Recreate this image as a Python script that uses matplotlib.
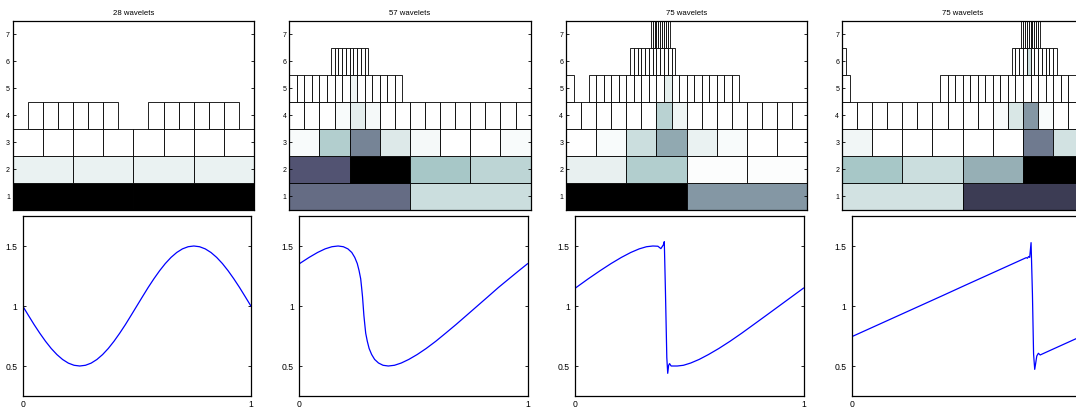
import matplotlib
matplotlib.use('Agg')
import matplotlib.pyplot as plt

plt.rcParams['font.family'] = ['Liberation Sans', 'DejaVu Sans']

titles = ['28 wavelets', '57 wavelets', '75 wavelets', '75 wavelets']

# ---- active wavelet cells per level (level j has 2**j cells on [0,1]) ----
p1_active = {
    1: [0, 1],
    2: [0, 1, 2, 3],
    3: [0, 1, 2, 3, 4, 5, 6, 7],
    4: [1, 2, 3, 4, 5, 6, 9, 10, 11, 12, 13, 14],
}
p2_active = {
    1: [0, 1],
    2: [0, 1, 2, 3],
    3: [0, 1, 2, 3, 4, 5, 6, 7],
    4: [0, 1, 2, 3, 4, 5, 6, 7, 8, 9, 10, 11, 12, 13, 14, 15],
    5: [0, 1, 2, 3, 4, 5, 6, 7, 8, 9, 10, 11, 12, 13, 14],
    6: [11, 12, 13, 14, 15, 16, 17, 18, 19, 20],
}
p3_active = {
    1: [0, 1],
    2: [0, 1, 2, 3],
    3: [0, 1, 2, 3, 4, 5, 6, 7],
    4: [0, 1, 2, 3, 4, 5, 6, 7, 8, 9, 10, 11, 12, 13, 14, 15],
    5: [0, 3, 4, 5, 6, 7, 8, 9, 10, 11, 12, 13, 14, 15, 16, 17, 18, 19, 20, 21, 22],
    6: [17, 18, 19, 20, 21, 22, 23, 24, 25, 26, 27, 28],
    7: [45, 46, 47, 48, 49, 50, 51, 52, 53, 54],
}
p4_active = {
    1: [0, 1],
    2: [0, 1, 2, 3],
    3: [0, 1, 2, 3, 4, 5, 6, 7],
    4: [0, 1, 2, 3, 4, 5, 6, 7, 8, 9, 10, 11, 12, 13, 14, 15],
    5: [0, 13, 14, 15, 16, 17, 18, 19, 20, 21, 22, 23, 24, 25, 26, 27, 28, 29, 30, 31],
    6: [0, 45, 46, 47, 48, 49, 50, 51, 52, 53, 54, 55, 56],
    7: [95, 96, 97, 98, 99, 100, 101, 102, 103, 104],
}

# ---- coefficient magnitude (0 = white, 1 = black) for shaded cells ----
p1_shade = {(1, 0): 1.0, (1, 1): 1.0,
            (2, 0): 0.06, (2, 1): 0.06, (2, 2): 0.06, (2, 3): 0.06}
p2_shade = {(1, 0): 0.55, (1, 1): 0.15,
            (2, 0): 0.63, (2, 1): 1.0, (2, 2): 0.25, (2, 3): 0.19,
            (3, 0): 0.02, (3, 1): 0.22, (3, 2): 0.47, (3, 3): 0.10, (3, 4): 0.03, (3, 7): 0.02,
            (4, 3): 0.02, (4, 4): 0.08, (4, 5): 0.03,
            (5, 8): 0.05}
p3_shade = {(1, 0): 1.0, (1, 1): 0.41,
            (2, 0): 0.07, (2, 1): 0.22, (2, 2): 0.01, (2, 3): 0.01,
            (3, 1): 0.02, (3, 2): 0.15, (3, 3): 0.35, (3, 4): 0.06, (3, 5): 0.02,
            (4, 6): 0.20, (4, 7): 0.05,
            (5, 13): 0.08}
p4_shade = {(1, 0): 0.13, (1, 1): 0.73,
            (2, 0): 0.25, (2, 1): 0.15, (2, 2): 0.33, (2, 3): 1.0,
            (3, 0): 0.04, (3, 6): 0.50, (3, 7): 0.13,
            (4, 10): 0.02, (4, 11): 0.11, (4, 12): 0.41, (4, 13): 0.02,
            (6, 49): 0.15}

# ---- solution curves ----
c1_x = [0.0, 0.025, 0.05, 0.075, 0.1, 0.125, 0.15, 0.175, 0.2, 0.225, 0.25,
        0.275, 0.3, 0.325, 0.35, 0.375, 0.4, 0.425, 0.45, 0.475, 0.5,
        0.525, 0.55, 0.575, 0.6, 0.625, 0.65, 0.675, 0.7, 0.725, 0.75,
        0.775, 0.8, 0.825, 0.85, 0.875, 0.9, 0.925, 0.95, 0.975, 1.0]
c1_y = [1.000, 0.922, 0.845, 0.773, 0.706, 0.646, 0.595, 0.554, 0.524, 0.506, 0.500,
        0.506, 0.524, 0.554, 0.595, 0.646, 0.706, 0.773, 0.845, 0.922, 1.000,
        1.078, 1.155, 1.227, 1.294, 1.354, 1.405, 1.446, 1.476, 1.494, 1.500,
        1.494, 1.476, 1.446, 1.405, 1.354, 1.294, 1.227, 1.155, 1.078, 1.000]

c2_x = [0.0, 0.043, 0.080, 0.113, 0.143, 0.170, 0.193, 0.213, 0.230, 0.243, 0.254,
        0.262, 0.269, 0.273, 0.277, 0.280, 0.283, 0.287, 0.291, 0.298, 0.306,
        0.317, 0.330, 0.347, 0.367, 0.390, 0.417, 0.447, 0.480, 0.517, 0.556,
        0.598, 0.641, 0.687, 0.733, 0.780, 0.827, 0.873, 0.919, 0.962, 1.0]
c2_y = [1.352, 1.405, 1.446, 1.476, 1.494, 1.500, 1.494, 1.476, 1.446, 1.405, 1.354,
        1.294, 1.227, 1.155, 1.078, 1.000, 0.922, 0.846, 0.773, 0.706, 0.646,
        0.596, 0.555, 0.525, 0.506, 0.500, 0.506, 0.525, 0.555, 0.596, 0.646,
        0.706, 0.773, 0.846, 0.922, 1.000, 1.078, 1.155, 1.227, 1.294, 1.352]

c3_x = [0.0, 0.057, 0.1085, 0.157, 0.202, 0.243, 0.280, 0.312, 0.340, 0.362,
        0.375, 0.386, 0.390, 0.395, 0.401, 0.405, 0.409, 0.413, 0.420, 0.447,
        0.474, 0.506, 0.543, 0.584, 0.629, 0.678, 0.729, 0.782, 0.837, 0.893,
        0.949, 1.0]
c3_y = [1.149, 1.227, 1.294, 1.354, 1.405, 1.446, 1.476, 1.494, 1.500, 1.498,
        1.478, 1.510, 1.536, 1.125, 0.570, 0.439, 0.505, 0.520, 0.500, 0.500,
        0.506, 0.525, 0.555, 0.596, 0.646, 0.706, 0.773, 0.846, 0.922, 1.000,
        1.078, 1.149]

c4_x = [0.0, 0.1, 0.2, 0.3, 0.4, 0.5, 0.6, 0.7, 0.765, 0.770, 0.775, 0.780,
        0.786, 0.792, 0.797, 0.802, 0.806, 0.811, 0.818, 0.826, 0.85, 0.9, 0.95, 1.0]
c4_y = [0.744, 0.830, 0.916, 1.002, 1.088, 1.175, 1.261, 1.347, 1.403, 1.398, 1.412, 1.405,
        1.528, 1.100, 0.600, 0.472, 0.520, 0.583, 0.606, 0.592, 0.613, 0.656, 0.699, 0.742]

actives = [p1_active, p2_active, p3_active, p4_active]
shades = [p1_shade, p2_shade, p3_shade, p4_shade]
curves = [(c1_x, c1_y), (c2_x, c2_y), (c3_x, c3_y), (c4_x, c4_y)]

level_ticks = [1, 2, 3, 4, 5, 6, 7]
curve_yticks = [0.5, 1, 1.5]
curve_ylabels = ['0.5', '1', '1.5']
curve_xticks = [0, 1]
curve_xlabels = ['0', '1']

W, H = 1076, 408
fig = plt.figure(figsize=(W / 100, H / 100), dpi=100)
cmap = plt.get_cmap('bone_r')

top_left = [12.7, 289.3, 566.0, 842.0]
bot_left = [22.7, 299.3, 575.3, 851.7]
top_w, bot_w = 241.3, 228.2
top_y0, top_y1 = 20.7, 210.0
bot_y0, bot_y1 = 216.0, 396.0


def style(ax, fs):
    for s in ax.spines.values():
        s.set_linewidth(0.9)
        s.set_color('black')
    ax.tick_params(direction='in', length=2.5, width=0.6, labelsize=fs,
                   top=True, right=True, pad=2, colors='black')


for k in range(4):
    ax = fig.add_axes([top_left[k] / W, (H - top_y1) / H,
                       top_w / W, (top_y1 - top_y0) / H])
    for level, idxs in actives[k].items():
        n = 2 ** level
        w = 1.0 / n
        lefts = [i * w for i in idxs]
        cols = [cmap(shades[k].get((level, i), 0.0)) for i in idxs]
        ax.bar(lefts, 1.0, width=w, bottom=level - 0.5, align='edge',
               color=cols, edgecolor='black', linewidth=0.6)
    ax.set_xlim(0, 1)
    ax.set_ylim(0.5, 7.5)
    ax.set_xticks([])
    ax.set_yticks(level_ticks)
    ax.set_yticklabels([str(v) for v in level_ticks])
    style(ax, 5)
    ax.set_title(titles[k], fontsize=5.6, pad=4)

    bx = fig.add_axes([bot_left[k] / W, (H - bot_y1) / H,
                       bot_w / W, (bot_y1 - bot_y0) / H])
    bx.plot(curves[k][0], curves[k][1], color='#0000ff', linewidth=0.9)
    bx.set_xlim(0, 1)
    bx.set_ylim(0.25, 1.75)
    bx.set_xticks(curve_xticks)
    bx.set_xticklabels(curve_xlabels)
    bx.set_yticks(curve_yticks)
    bx.set_yticklabels(curve_ylabels)
    style(bx, 6.2)
    bx.tick_params(axis='y', pad=4)
    bx.tick_params(axis='x', pad=3)

fig.savefig('out.png', dpi=100)
